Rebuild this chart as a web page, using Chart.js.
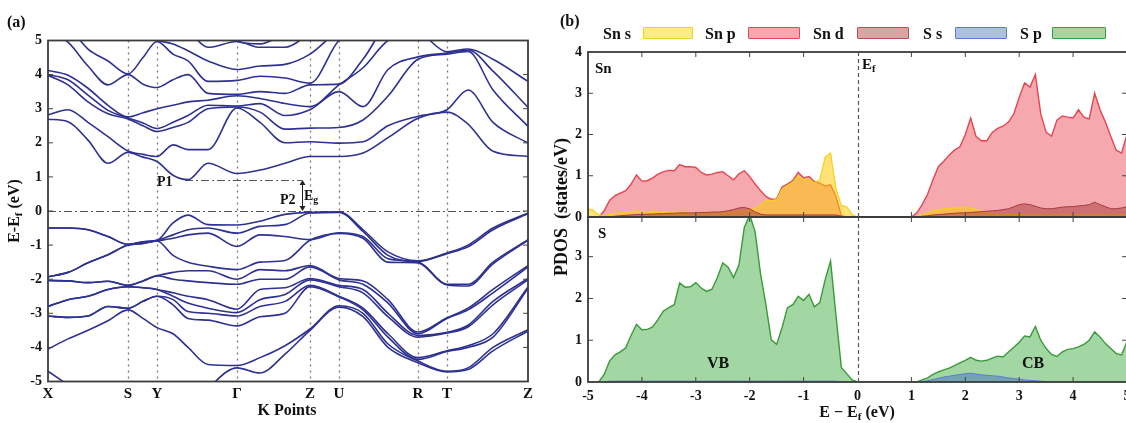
<!DOCTYPE html>
<html>
<head>
<meta charset="utf-8">
<script src="https://cdn.jsdelivr.net/npm/chart.js@4.4.1/dist/chart.umd.min.js"></script>
<style>
	body {
		margin: 0;
		width: 1126px;
		height: 423px;
		overflow: hidden;
		background: #fff;
		position: relative;
		font-family: "Liberation Serif", "DejaVu Serif", serif;
		font-weight: bold;
		color: #111;
	}
	canvas { position: absolute; }
	.t { position: absolute; white-space: nowrap; line-height: 1; }
	.t sub { font-size: 70%; vertical-align: -0.3em; line-height: 0; }
	.box { position: absolute; height: 10px; border-width: 1.5px; border-style: solid; border-radius: 1px; }
</style>
</head>
<body>
<canvas id="bands" width="540" height="423" style="left:0;top:0"></canvas>
<canvas id="pdosSn" width="600" height="235" style="left:540px;top:0"></canvas>
<canvas id="pdosS" width="600" height="224" style="left:540px;top:199px"></canvas>

<div class="t" style="left:7px;top:14px;font-size:16px">(a)</div>
<div class="t" style="left:560px;top:13px;font-size:16px">(b)</div>

<div class="t" style="left:14px;top:211px;font-size:16px;transform:translate(-50%,-50%) rotate(-90deg)">E-E<sub>f</sub> (eV)</div>
<div class="t" style="left:287px;top:402px;font-size:16px;transform:translateX(-50%)">K Points</div>
<div class="t" style="left:157px;top:175px;font-size:14px">P1</div>
<div class="t" style="left:280px;top:193px;font-size:14px">P2</div>
<div class="t" style="left:304px;top:189px;font-size:14px">E<sub>g</sub></div>

<div class="t" style="left:561px;top:207px;font-size:18px;transform:translate(-50%,-50%) rotate(-90deg)">PDOS&nbsp; (states/eV)</div>
<div class="t" style="left:857px;top:404px;font-size:16px;transform:translateX(-50%)">E &minus; E<sub>f</sub> (eV)</div>
<div class="t" style="left:595px;top:61px;font-size:15px">Sn</div>
<div class="t" style="left:862px;top:57px;font-size:15px">E<sub>f</sub></div>
<div class="t" style="left:598px;top:226px;font-size:15px">S</div>
<div class="t" style="left:707px;top:355px;font-size:16px">VB</div>
<div class="t" style="left:1022px;top:355px;font-size:16px">CB</div>

<div class="t" style="left:603px;top:26px;font-size:16px">Sn s</div>
<div class="box" style="left:643px;top:27px;width:48px;background:#fbeb8c;border-color:#f2d31b"></div>
<div class="t" style="left:705px;top:26px;font-size:16px">Sn p</div>
<div class="box" style="left:748px;top:27px;width:50px;background:#f5a8ad;border-color:#e24a55"></div>
<div class="t" style="left:813px;top:26px;font-size:16px">Sn d</div>
<div class="box" style="left:857px;top:27px;width:50px;background:#dca3a3;border-color:#b35252"></div>
<div class="t" style="left:923px;top:26px;font-size:16px">S s</div>
<div class="box" style="left:955px;top:27px;width:50px;background:#aebfe6;border-color:#5b7bd0"></div>
<div class="t" style="left:1020px;top:26px;font-size:16px">S p</div>
<div class="box" style="left:1052px;top:27px;width:52px;background:#a3d6a0;border-color:#3e9e3e"></div>

<script>
// ---- band structure: k path positions and labels
const kPath = [0, 20, 40, 60, 80, 95, 109, 125, 140, 160, 189, 212, 237, 262, 291, 315, 340, 370, 399, 420, 445, 480];
const kTicks = [0, 80, 109, 189, 262, 291, 370, 399, 480];
const kLabels = ["X", "S", "Y", "\u0393", "Z", "U", "R", "T", "Z"];

// conduction band energies (eV) at each k in kPath, lowest first
const condE = [
	[2.69, 2.82, 3.98, 4.0, 4.12, 5.3, 5.6, 5.9, 6.2, 6.5],
	[2.62, 2.97, 3.7, 3.85, 3.98, 4.95, 5.4, 5.9, 6.2, 6.5],
	[2.08, 2.6, 3.2, 3.4, 3.6, 4.25, 4.75, 5.9, 6.2, 6.5],
	[1.4, 2.18, 2.85, 2.95, 3.1, 3.7, 4.4, 5.6, 6.2, 6.5],
	[1.72, 1.76, 2.7, 2.73, 2.76, 4.0, 4.02, 5.3, 6.0, 6.5],
	[1.58, 1.66, 2.5, 2.58, 2.88, 3.72, 4.5, 5.1, 5.8, 6.5],
	[1.45, 1.6, 2.33, 2.42, 3.0, 3.62, 4.97, 5.0, 6.2, 6.8],
	[1.05, 1.94, 2.45, 2.6, 3.1, 3.85, 4.6, 4.9, 5.6, 6.5],
	[0.92, 1.8, 2.6, 2.8, 3.2, 4.0, 4.4, 4.7, 5.3, 6.2],
	[1.4, 1.8, 3.0, 3.1, 3.25, 3.45, 3.8, 4.4, 4.8, 5.8],
	[1.1, 3.02, 3.05, 3.08, 3.38, 3.42, 3.83, 4.15, 4.97, 4.98],
	[1.2, 2.6, 2.9, 3.15, 3.3, 3.5, 3.95, 4.25, 4.8, 4.9],
	[1.4, 2.0, 2.4, 2.8, 3.15, 3.45, 3.9, 4.3, 4.8, 5.2],
	[1.6, 2.03, 2.43, 2.97, 3.06, 3.7, 3.75, 4.6, 5.2, 5.5],
	[1.6, 1.99, 2.45, 3.5, 3.7, 3.72, 5.0, 5.3, 5.6, 5.9],
	[1.7, 2.03, 2.67, 3.06, 4.2, 4.45, 5.3, 5.6, 5.9, 6.2],
	[2.15, 2.5, 3.37, 4.15, 5.0, 5.5, 5.8, 6.1, 6.4, 6.7],
	[2.72, 2.78, 4.45, 4.52, 5.2, 5.7, 6.0, 6.3, 6.6, 6.9],
	[2.9, 2.97, 4.6, 4.63, 4.67, 5.7, 6.0, 6.3, 6.6, 6.9],
	[2.55, 3.55, 4.68, 4.72, 4.75, 5.6, 6.0, 6.3, 6.6, 6.9],
	[1.75, 2.6, 3.55, 4.1, 4.45, 5.4, 5.9, 6.3, 6.6, 6.9],
	[1.6, 1.99, 2.48, 3.04, 3.8, 5.2, 5.8, 6.3, 6.6, 6.9]
];

// valence band energies (eV) at each k in kPath, highest first
const valE = [
	[-0.5, -0.5, -1.93, -1.93, -2.04, -2.04, -2.8, -2.8, -3.08, -3.08, -4.05, -4.7],
	[-0.5, -0.5, -1.8, -1.8, -2.05, -2.05, -2.6, -2.6, -3.12, -3.12, -3.75, -5.1],
	[-0.55, -0.55, -1.52, -1.52, -2.1, -2.1, -2.5, -2.5, -3.08, -3.08, -3.5, -5.5],
	[-0.75, -0.75, -1.28, -1.28, -2.06, -2.06, -2.3, -2.3, -2.8, -2.8, -3.22, -5.8],
	[-0.98, -0.98, -1.0, -1.0, -2.18, -2.18, -2.22, -2.22, -2.85, -2.85, -2.9, -6.0],
	[-0.9, -0.9, -0.95, -0.95, -2.05, -2.05, -2.25, -2.25, -2.65, -2.65, -3.15, -6.0],
	[-0.86, -0.86, -0.88, -0.88, -1.9, -1.9, -2.3, -2.3, -2.5, -2.5, -3.42, -6.0],
	[-0.35, -0.7, -0.8, -1.3, -1.8, -2.0, -2.4, -2.5, -2.6, -2.75, -3.6, -6.0],
	[-0.12, -0.55, -0.7, -1.5, -1.75, -2.05, -2.5, -2.7, -2.95, -3.15, -4.0, -5.8],
	[-0.4, -0.5, -0.65, -1.62, -1.75, -2.1, -2.6, -2.85, -3.0, -3.2, -4.5, -5.2],
	[-0.41, -0.65, -1.04, -1.72, -2.0, -2.15, -2.88, -2.98, -3.08, -3.37, -4.53, -4.6],
	[-0.3, -0.45, -0.7, -1.5, -1.72, -2.0, -2.3, -2.6, -2.8, -3.1, -4.3, -4.75],
	[-0.1, -0.4, -0.75, -1.45, -1.75, -2.0, -2.25, -2.45, -2.65, -3.0, -3.95, -4.2],
	[-0.04, -0.06, -0.84, -0.86, -1.6, -1.64, -1.98, -2.02, -2.18, -2.22, -3.46, -3.5],
	[-0.02, -0.04, -0.64, -0.66, -1.98, -2.02, -2.18, -2.22, -2.5, -2.52, -2.78, -2.82],
	[-0.55, -0.6, -0.75, -0.8, -2.05, -2.15, -2.3, -2.4, -2.85, -2.9, -3.0, -3.1],
	[-1.2, -1.3, -1.4, -1.5, -2.6, -2.7, -3.0, -3.1, -3.6, -3.7, -3.9, -4.0],
	[-1.46, -1.48, -1.5, -1.52, -3.55, -3.6, -3.65, -3.7, -4.3, -4.35, -4.4, -4.45],
	[-1.23, -1.25, -2.15, -2.17, -3.13, -3.15, -3.56, -3.58, -4.1, -4.12, -4.7, -4.72],
	[-1.0, -1.05, -2.15, -2.2, -2.85, -2.9, -3.35, -3.4, -3.95, -4.0, -4.6, -4.65],
	[-0.5, -0.55, -1.5, -1.55, -2.3, -2.4, -2.65, -2.75, -3.6, -3.7, -4.0, -4.1],
	[-0.06, -0.08, -0.84, -0.86, -1.6, -1.64, -1.98, -2.02, -2.23, -2.27, -3.48, -3.52]
];

// P1 (CBM) / P2 (VBM) gap marker
const p1K = 137, p1E = 0.91, gapK = 254;

// ---- PDOS: energy grid and projected densities (states/eV)
const pdosE = [
	-5.0, -4.9, -4.8, -4.7, -4.6, -4.5, -4.4, -4.3, -4.2, -4.1,
	-4.0, -3.9, -3.8, -3.7, -3.6, -3.5, -3.4, -3.3, -3.2, -3.1,
	-3.0, -2.9, -2.8, -2.7, -2.6, -2.5, -2.4, -2.3, -2.2, -2.1,
	-2.0, -1.9, -1.8, -1.7, -1.6, -1.5, -1.4, -1.3, -1.2, -1.1,
	-1.0, -0.9, -0.8, -0.7, -0.6, -0.5, -0.4, -0.3, -0.2, -0.1,
	0.0,
	0.1, 0.2, 0.3, 0.4, 0.5, 0.6, 0.7, 0.8, 0.9, 1.0,
	1.1, 1.2, 1.3, 1.4, 1.5, 1.6, 1.7, 1.8, 1.9, 2.0,
	2.1, 2.2, 2.3, 2.4, 2.5, 2.6, 2.7, 2.8, 2.9, 3.0,
	3.1, 3.2, 3.3, 3.4, 3.5, 3.6, 3.7, 3.8, 3.9, 4.0,
	4.1, 4.2, 4.3, 4.4, 4.5, 4.6, 4.7, 4.8, 4.9, 5.0
];

const snS = [
	0.2, 0.16, 0.05, 0.03, 0.06, 0.09, 0.1, 0.12, 0.13, 0.14,
	0.13, 0.12, 0.12, 0.12, 0.11, 0.11, 0.1, 0.1, 0.1, 0.1,
	0.1, 0.1, 0.1, 0.1, 0.1, 0.1, 0.1, 0.12, 0.15, 0.15,
	0.18, 0.2, 0.3, 0.4, 0.4, 0.42, 0.68, 0.76, 0.84, 1.0,
	0.9, 0.92, 0.83, 0.9, 1.45, 1.55, 0.7, 0.28, 0.25, 0.06,
	0,
	0, 0, 0, 0, 0, 0, 0, 0, 0, 0,
	0.02, 0.06, 0.1, 0.15, 0.18, 0.2, 0.21, 0.22, 0.23, 0.24,
	0.22, 0.18, 0.14, 0.1, 0.08, 0.07, 0.07, 0.06, 0.06, 0.06,
	0.05, 0.05, 0.05, 0.05, 0.05, 0.05, 0.05, 0.05, 0.05, 0.05,
	0.05, 0.05, 0.05, 0.05, 0.05, 0.05, 0.05, 0.05, 0.05, 0.05
];

const snP = [
	0, 0, 0, 0.15, 0.4, 0.52, 0.58, 0.64, 0.8, 1.02,
	0.87, 0.88, 0.95, 1.04, 1.1, 1.13, 1.12, 1.27, 1.22, 1.22,
	1.2, 1.08, 1.02, 1.04, 1.08, 1.1, 1.0, 0.9, 1.05, 1.12,
	0.98, 0.8, 0.64, 0.5, 0.43, 0.44, 0.73, 0.8, 0.88, 1.08,
	0.95, 0.98, 0.86, 0.82, 0.75, 0.78, 0.5, 0.03, 0, 0,
	0,
	0, 0, 0, 0, 0, 0, 0, 0, 0, 0,
	0.1, 0.3, 0.55, 0.9, 1.22, 1.35, 1.5, 1.62, 1.7, 2.0,
	2.4, 1.95, 1.85, 1.85, 2.05, 2.15, 2.2, 2.3, 2.5, 2.9,
	3.25, 3.15, 3.45, 2.5, 2.05, 1.96, 2.35, 2.45, 2.42, 2.4,
	2.6, 2.42, 2.38, 3.0, 2.6, 2.3, 1.95, 1.62, 1.55, 2.0
];

const snD = [
	0, 0, 0, 0, 0, 0.02, 0.03, 0.04, 0.05, 0.06,
	0.06, 0.07, 0.07, 0.08, 0.08, 0.09, 0.09, 0.1, 0.1, 0.1,
	0.1, 0.11, 0.11, 0.12, 0.12, 0.13, 0.15, 0.18, 0.22, 0.23,
	0.2, 0.12, 0.07, 0.05, 0.05, 0.05, 0.05, 0.05, 0.05, 0.05,
	0.05, 0.05, 0.05, 0.05, 0.05, 0.05, 0.05, 0.02, 0, 0,
	0,
	0, 0, 0, 0, 0, 0, 0, 0, 0, 0,
	0, 0.02, 0.03, 0.05, 0.06, 0.07, 0.08, 0.09, 0.1, 0.1,
	0.11, 0.12, 0.13, 0.14, 0.15, 0.16, 0.18, 0.2, 0.25, 0.3,
	0.32, 0.3, 0.26, 0.22, 0.2, 0.2, 0.22, 0.24, 0.25, 0.25,
	0.27, 0.28, 0.3, 0.36, 0.3, 0.25, 0.2, 0.2, 0.22, 0.25
];

const sS = [
	0, 0, 0, 0, 0.02, 0.02, 0.02, 0.02, 0.02, 0.02,
	0.02, 0.02, 0.02, 0.02, 0.02, 0.02, 0.02, 0.02, 0.02, 0.02,
	0.02, 0.02, 0.02, 0.02, 0.02, 0.02, 0.02, 0.02, 0.02, 0.02,
	0.02, 0.02, 0.02, 0.02, 0.02, 0.02, 0.02, 0.02, 0.02, 0.02,
	0.02, 0.02, 0.02, 0.02, 0.02, 0.02, 0.02, 0, 0, 0,
	0,
	0, 0, 0, 0, 0, 0, 0, 0, 0, 0,
	0, 0.01, 0.03, 0.06, 0.09, 0.12, 0.14, 0.16, 0.18, 0.2,
	0.21, 0.19, 0.17, 0.16, 0.15, 0.14, 0.12, 0.1, 0.08, 0.07,
	0.05, 0.04, 0.03, 0.02, 0.01, 0, 0, 0, 0, 0,
	0, 0, 0, 0, 0, 0, 0, 0, 0, 0
];

const sP = [
	0, 0, 0, 0.18, 0.5, 0.65, 0.72, 0.82, 1.12, 1.38,
	1.25, 1.26, 1.32, 1.5, 1.7, 1.78, 1.85, 2.37, 2.27, 2.28,
	2.38, 2.25, 2.17, 2.22, 2.5, 2.85, 2.75, 2.5, 2.8, 3.7,
	4.0, 3.6, 2.6, 1.85, 1.01, 0.9, 1.3, 1.78, 1.85, 2.05,
	1.95, 2.1, 1.8, 1.9, 2.45, 2.9, 1.6, 0.35, 0.2, 0.05,
	0,
	0, 0, 0, 0, 0, 0, 0, 0, 0, 0,
	0, 0.05, 0.1, 0.18, 0.24, 0.29, 0.33, 0.39, 0.46, 0.52,
	0.59, 0.52, 0.5, 0.52, 0.57, 0.62, 0.6, 0.72, 0.83, 0.95,
	1.1, 1.08, 1.33, 1.0, 0.8, 0.66, 0.61, 0.72, 0.78, 0.8,
	0.84, 0.9, 1.0, 1.2, 1.08, 0.92, 0.8, 0.68, 0.65, 0.97
];

const serif = "'Liberation Serif', 'DejaVu Serif', serif";
const tickFont = { family: serif, size: 14, weight: "bold" };
const noGrid = { display: false, drawTicks: false };

// frame round the plot area with small inward ticks
const framePlugin = {
	id: "frame",
	afterDatasetsDraw(chart, args, opts) {
		const { ctx, chartArea: a, scales } = chart;
		const len = 5;
		ctx.save();
		ctx.strokeStyle = "#444";
		ctx.lineWidth = 1;
		(opts.xTicks || []).forEach((v) => {
			const px = scales.x.getPixelForValue(v);
			ctx.beginPath();
			ctx.moveTo(px, a.bottom); ctx.lineTo(px, a.bottom - len);
			ctx.moveTo(px, a.top); ctx.lineTo(px, a.top + len);
			ctx.stroke();
		});
		(opts.yTicks || []).forEach((v) => {
			const py = scales.y.getPixelForValue(v);
			ctx.beginPath();
			ctx.moveTo(a.left, py); ctx.lineTo(a.left + len, py);
			ctx.moveTo(a.right, py); ctx.lineTo(a.right - len, py);
			ctx.stroke();
		});
		ctx.strokeStyle = "#3c3c3c";
		ctx.lineWidth = 1.8;
		ctx.strokeRect(a.left, a.top, a.right - a.left, a.bottom - a.top);
		ctx.restore();
	}
};

// dotted k lines, dash-dot Fermi level and gap arrow
const bandDecor = {
	id: "bandDecor",
	beforeDatasetsDraw(chart) {
		const { ctx, chartArea: a, scales: { x, y } } = chart;
		ctx.save();
		ctx.strokeStyle = "#777";
		ctx.lineWidth = 1.3;
		ctx.setLineDash([2, 4]);
		kTicks.slice(1, -1).forEach((k) => {
			const px = Math.round(x.getPixelForValue(k)) + 0.5;
			ctx.beginPath();
			ctx.moveTo(px, a.top);
			ctx.lineTo(px, a.bottom);
			ctx.stroke();
		});
		ctx.strokeStyle = "#555";
		ctx.lineWidth = 1;
		ctx.setLineDash([8, 3, 2, 3]);
		const y0 = Math.round(y.getPixelForValue(0)) + 0.5;
		ctx.beginPath();
		ctx.moveTo(a.left, y0);
		ctx.lineTo(a.right, y0);
		const y1 = Math.round(y.getPixelForValue(p1E)) + 0.5;
		ctx.moveTo(x.getPixelForValue(p1K), y1);
		ctx.lineTo(x.getPixelForValue(gapK), y1);
		ctx.stroke();
		ctx.restore();
	},
	afterDatasetsDraw(chart) {
		const { ctx, scales: { x, y } } = chart;
		const px = Math.round(x.getPixelForValue(gapK)) + 0.5;
		const yTop = y.getPixelForValue(p1E);
		const yBot = y.getPixelForValue(0);
		ctx.save();
		ctx.strokeStyle = "#222";
		ctx.fillStyle = "#222";
		ctx.lineWidth = 1;
		ctx.beginPath();
		ctx.moveTo(px, yTop + 3);
		ctx.lineTo(px, yBot - 3);
		ctx.stroke();
		ctx.beginPath();
		ctx.moveTo(px, yTop); ctx.lineTo(px - 3, yTop + 5); ctx.lineTo(px + 3, yTop + 5);
		ctx.closePath(); ctx.fill();
		ctx.beginPath();
		ctx.moveTo(px, yBot); ctx.lineTo(px - 3, yBot - 5); ctx.lineTo(px + 3, yBot - 5);
		ctx.closePath(); ctx.fill();
		ctx.restore();
	}
};

// vertical dashed Fermi line in the PDOS panels
const fermiLine = {
	id: "fermiLine",
	afterDatasetsDraw(chart) {
		const { ctx, chartArea: a, scales: { x } } = chart;
		const px = Math.round(x.getPixelForValue(0)) + 0.5;
		ctx.save();
		ctx.strokeStyle = "#555";
		ctx.lineWidth = 1.2;
		ctx.setLineDash([4, 3]);
		ctx.beginPath();
		ctx.moveTo(px, a.top);
		ctx.lineTo(px, a.bottom);
		ctx.stroke();
		ctx.restore();
	}
};

// build one dataset per band from the per-k energy lists
function bandSets(table) {
	const sets = [];
	for (let b = 0; b < table[0].length; b++) {
		sets.push({
			data: kPath.map((k, i) => ({ x: k, y: table[i][b] })),
			borderColor: "#2e3192",
			borderWidth: 1.6,
			pointRadius: 0,
			fill: false,
			cubicInterpolationMode: "monotone"
		});
	}
	return sets;
}

new Chart(document.getElementById("bands"), {
	type: "line",
	data: { datasets: [...bandSets(condE), ...bandSets(valE)] },
	options: {
		responsive: false,
		animation: false,
		events: [],
		layout: { autoPadding: false, padding: { top: 40.5, right: 12, left: 0, bottom: 0 } },
		plugins: {
			legend: { display: false },
			tooltip: { enabled: false },
			frame: { yTicks: [-4, -3, -2, -1, 0, 1, 2, 3, 4] }
		},
		scales: {
			x: {
				type: "linear",
				min: 0,
				max: 480,
				grid: noGrid,
				border: { display: false },
				afterBuildTicks: (s) => { s.ticks = kTicks.map((v) => ({ value: v })); },
				afterFit: (s) => { s.height = 41.5; },
				ticks: {
					autoSkip: false,
					maxRotation: 0,
					padding: 4,
					color: "#111",
					font: { family: serif, size: 15, weight: "bold" },
					callback: (v, i) => kLabels[i]
				}
			},
			y: {
				min: -5,
				max: 5,
				grid: noGrid,
				border: { display: false },
				afterFit: (s) => { s.width = 48; },
				ticks: { stepSize: 1, padding: 6, color: "#111", font: tickFont }
			}
		}
	},
	plugins: [framePlugin, bandDecor]
});

function pdosSet(values, line, fillColor, width) {
	return {
		data: pdosE.map((e, i) => ({ x: e, y: values[i] })),
		borderColor: line,
		backgroundColor: fillColor,
		borderWidth: width,
		pointRadius: 0,
		tension: 0,
		fill: "origin"
	};
}

// Sn panel (first dataset is drawn on top)
new Chart(document.getElementById("pdosSn"), {
	type: "line",
	data: {
		datasets: [
			pdosSet(snD, "#a83a3a", "rgba(160, 45, 45, 0.45)", 1),
			pdosSet(snS, "#f2d31b", "rgba(255, 200, 10, 0.55)", 1.2),
			pdosSet(snP, "#e5454f", "rgba(236, 90, 100, 0.52)", 1.4)
		]
	},
	options: {
		responsive: false,
		animation: false,
		events: [],
		layout: { autoPadding: false, padding: { top: 52, right: 13, left: 0, bottom: 18 } },
		plugins: {
			legend: { display: false },
			tooltip: { enabled: false },
			frame: { xTicks: [-4, -3, -2, -1, 1, 2, 3, 4], yTicks: [1, 2, 3] }
		},
		scales: {
			x: { type: "linear", min: -5, max: 5, display: false },
			y: {
				min: 0,
				max: 4,
				grid: noGrid,
				border: { display: false },
				afterFit: (s) => { s.width = 48; },
				ticks: { stepSize: 1, padding: 6, color: "#111", font: tickFont }
			}
		}
	},
	plugins: [framePlugin, fermiLine]
});

// S panel
new Chart(document.getElementById("pdosS"), {
	type: "line",
	data: {
		datasets: [
			pdosSet(sS, "#5b7bd0", "rgba(60, 100, 200, 0.45)", 1),
			pdosSet(sP, "#3a9a3a", "rgba(85, 180, 85, 0.55)", 1.4)
		]
	},
	options: {
		responsive: false,
		animation: false,
		events: [],
		layout: { autoPadding: false, padding: { top: 18, right: 13, left: 0, bottom: 0 } },
		plugins: {
			legend: { display: false },
			tooltip: { enabled: false },
			frame: { xTicks: [-4, -3, -2, -1, 1, 2, 3, 4], yTicks: [1, 2, 3] }
		},
		scales: {
			x: {
				type: "linear",
				min: -5,
				max: 5,
				grid: noGrid,
				border: { display: false },
				afterFit: (s) => { s.height = 41; },
				ticks: { stepSize: 1, padding: 6, color: "#111", font: tickFont }
			},
			y: {
				min: 0,
				max: 3.95,
				grid: noGrid,
				border: { display: false },
				afterBuildTicks: (s) => { s.ticks = [0, 1, 2, 3].map((v) => ({ value: v })); },
				afterFit: (s) => { s.width = 48; },
				ticks: { padding: 6, color: "#111", font: tickFont }
			}
		}
	},
	plugins: [framePlugin, fermiLine]
});
</script>
</body>
</html>
